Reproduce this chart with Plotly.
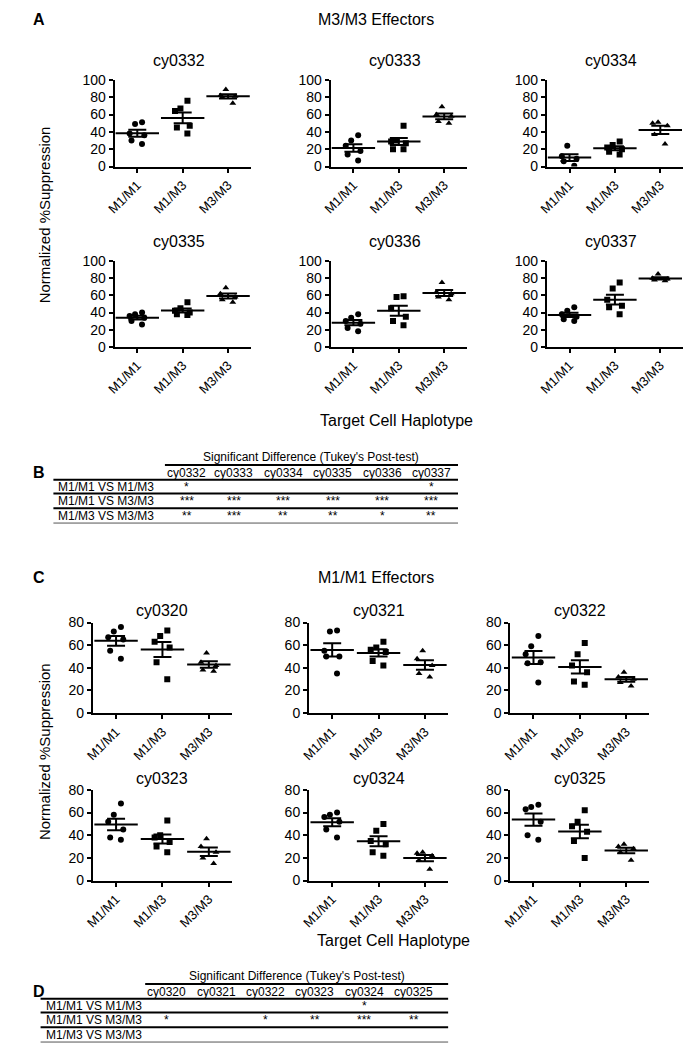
import plotly.graph_objects as go
import numpy as np

W, H = 683, 1053
FONT = "Arial, Liberation Sans, sans-serif"

groups = ["M1/M1", "M1/M3", "M3/M3"]
symbols = ["circle", "square", "triangle-up"]

# Panel A: M3/M3 effectors (values per target haplotype)
cy0332 = [[51, 49, 38, 36, 30, 26], [76, 67, 64, 47, 45, 38], [89, 82, 81, 80, 73]]
cy0333 = [[36, 30, 24, 18, 14, 7], [47, 30, 29, 27, 20, 20], [69, 60, 58, 52, 50]]
cy0334 = [[24, 12, 9, 6, 1], [29, 25, 22, 20, 17, 14], [51, 50, 47, 37, 26]]
cy0335 = [[40, 38, 36, 34, 30, 26], [52, 45, 42, 40, 38, 37], [69, 62, 58, 55, 52]]
cy0336 = [[38, 34, 30, 27, 22, 18], [59, 58, 45, 35, 30, 25], [75, 64, 62, 58, 55]]
cy0337 = [[46, 42, 38, 35, 32, 30], [75, 68, 55, 48, 46, 38], [85, 80, 79, 78, 77]]

# Panel C: M1/M1 effectors
cy0320 = [[76, 72, 67, 65, 55, 48], [73, 68, 63, 58, 45, 30], [53, 45, 42, 38, 37]]
cy0321 = [[73, 72, 55, 50, 50, 35], [63, 58, 56, 54, 46, 42], [55, 48, 42, 35, 32]]
cy0322 = [[68, 59, 52, 45, 44, 27], [62, 52, 42, 36, 28, 25], [36, 32, 30, 27, 24]]
cy0323 = [[68, 58, 52, 45, 38, 36], [53, 40, 38, 34, 30, 25], [37, 30, 25, 20, 15]]
cy0324 = [[60, 58, 56, 52, 45, 38], [50, 44, 35, 32, 25, 22], [25, 24, 22, 18, 10]]
cy0325 = [[67, 65, 63, 52, 40, 36], [62, 52, 48, 43, 35, 20], [32, 30, 28, 25, 18]]

# Tables
table_b_cols = ["cy0332", "cy0333", "cy0334", "cy0335", "cy0336", "cy0337"]
table_b_rows = ["M1/M1 VS M1/M3", "M1/M1 VS M3/M3", "M1/M3 VS M3/M3"]
table_b_vals = [["*", "", "", "", "", "*"],
                ["***", "***", "***", "***", "***", "***"],
                ["**", "***", "**", "**", "*", "**"]]
table_d_cols = ["cy0320", "cy0321", "cy0322", "cy0323", "cy0324", "cy0325"]
table_d_rows = ["M1/M1 VS M1/M3", "M1/M1 VS M3/M3", "M1/M3 VS M3/M3"]
table_d_vals = [["", "", "", "", "*", ""],
                ["*", "", "*", "**", "***", "**"],
                ["", "", "", "", "", ""]]

a_data = [("cy0332", cy0332), ("cy0333", cy0333), ("cy0334", cy0334),
          ("cy0335", cy0335), ("cy0336", cy0336), ("cy0337", cy0337)]
c_data = [("cy0320", cy0320), ("cy0321", cy0321), ("cy0322", cy0322),
          ("cy0323", cy0323), ("cy0324", cy0324), ("cy0325", cy0325)]


def px(x):
    return x / W


def py(y):
    return 1 - y / H


A_cols = [(107, 245), (326, 464), (545, 683)]
A_rows = [(73, 161), (257, 344)]
C_cols = [(85, 226), (304, 445), (508, 649)]
C_rows = [(624, 716), (794, 886)]

specs = []
for i, (n, d) in enumerate(a_data):
    specs.append((n, d, A_cols[i % 3], A_rows[i // 3], 100))
for i, (n, d) in enumerate(c_data):
    specs.append((n, d, C_cols[i % 3], C_rows[i // 3], 80))

fig = go.Figure()
annotations = []
shapes = []
layout = {}

for k, (name, data, (x0, x1), (yt, yb), ymax) in enumerate(specs):
    ax = k + 1
    xa = "x" if ax == 1 else f"x{ax}"
    ya = "y" if ax == 1 else f"y{ax}"
    for g in range(3):
        fig.add_trace(go.Box(
            x=[groups[g]] * len(data[g]), y=data[g],
            boxpoints="all", jitter=0.8, pointpos=0, width=0.5,
            fillcolor="rgba(0,0,0,0)", line=dict(width=0, color="rgba(0,0,0,0)"),
            marker=dict(symbol=symbols[g], size=6, color="black"),
            xaxis=xa, yaxis=ya, showlegend=False, hoverinfo="y"))
    means = [float(np.mean(d)) for d in data]
    sems = [float(np.std(d, ddof=1) / np.sqrt(len(d))) for d in data]
    fig.add_trace(go.Scatter(
        x=groups, y=means, mode="markers",
        marker=dict(symbol="line-ew", size=31, color="black",
                    line=dict(width=2, color="black")),
        error_y=dict(type="data", array=sems, width=9, thickness=2, color="black"),
        xaxis=xa, yaxis=ya, showlegend=False, cliponaxis=False))
    axn = "" if ax == 1 else str(ax)
    layout[f"xaxis{axn}"] = dict(
        domain=[px(x0), px(x1)], anchor=ya, type="category",
        categoryorder="array", categoryarray=groups, range=[-0.5, 2.5],
        showline=True, linecolor="black", linewidth=2,
        ticks="outside", ticklen=4, tickwidth=2, tickcolor="black",
        tickangle=-45, tickfont=dict(size=13, color="black", family=FONT),
        showgrid=False, zeroline=False, fixedrange=True)
    layout[f"yaxis{axn}"] = dict(
        domain=[py(yb), py(yt)], anchor=xa, range=[0, ymax], dtick=20,
        showline=True, linecolor="black", linewidth=2,
        ticks="outside", ticklen=4, tickwidth=2, tickcolor="black",
        tickfont=dict(size=14, color="black", family=FONT),
        showgrid=False, zeroline=False, fixedrange=True)
    if ymax == 100:
        tx, ty = (x0 + x1) / 2 - 4, yt - 20
    else:
        tx, ty = (x0 + x1) / 2, yt - 12
    annotations.append(dict(
        text=name, x=px(tx), y=py(ty),
        xref="paper", yref="paper", showarrow=False,
        font=dict(size=16, color="black", family=FONT), xanchor="center", yanchor="middle"))


def text(t, x, y, size=13, xanchor="center", bold=False, angle=0):
    annotations.append(dict(
        text=f"<b>{t}</b>" if bold else t, x=px(x), y=py(y), xref="paper", yref="paper",
        showarrow=False, xanchor=xanchor, yanchor="middle", textangle=angle,
        font=dict(size=size, color="black", family=FONT)))


def hline(x0, x1, y, width=2, color="black"):
    shapes.append(dict(type="line", xref="paper", yref="paper",
                       x0=px(x0), x1=px(x1), y0=py(y), y1=py(y),
                       line=dict(color=color, width=width)))


# Panel A labels
text("A", 30, 12, size=16, bold=True)
text("M3/M3 Effectors", 372, 12, size=16)
text("Normalized %Suppression", 36, 210, size=15, angle=-90)
text("Target Cell Haplotype", 393, 419, size=16)

# Panel C labels
text("C", 30, 578, size=16, bold=True)
text("M1/M1 Effectors", 372, 578, size=16)
text("Normalized %Suppression", 36, 755, size=15, angle=-90)
text("Target Cell Haplotype", 390, 947, size=16)


def table(letter, top, cols, rows, vals, col_x, left, right, hdr_left):
    text(letter, 30, top + 16, size=16, bold=True)
    text("Significant Difference (Tukey's Post-test)", (hdr_left + right) / 2, top, size=12)
    hline(hdr_left, right, top + 8)
    for c, cx in zip(cols, col_x):
        text(c, cx, top + 16, size=12)
    hline(left, right, top + 23)
    for r, (rn, rv) in enumerate(zip(rows, vals)):
        yy = top + 30 + 15 * r
        text(rn, left + 3, yy, size=12, xanchor="left")
        for v, cx in zip(rv, col_x):
            if v:
                text(v, cx, yy, size=12)
        hline(left, right, yy + 7, width=2 if r < 2 else 1,
              color="black" if r < 2 else "#555")


table("B", 456, table_b_cols, table_b_rows, table_b_vals,
      [180, 228, 278, 328, 378, 428], 45, 455, 158)
table("D", 983, table_d_cols, table_d_rows, table_d_vals,
      [160, 210, 260, 310, 360, 410], 32, 445, 138)

fig.update_layout(
    width=W, height=H, margin=dict(l=0, r=0, t=0, b=0),
    paper_bgcolor="white", plot_bgcolor="white",
    annotations=annotations, shapes=shapes, boxmode="overlay",
    font=dict(family=FONT, color="black"), **layout)

fig.write_html("out.html", config={"displayModeBar": False},
               post_script="document.body.style.margin='0';document.body.style.overflow='hidden';")
